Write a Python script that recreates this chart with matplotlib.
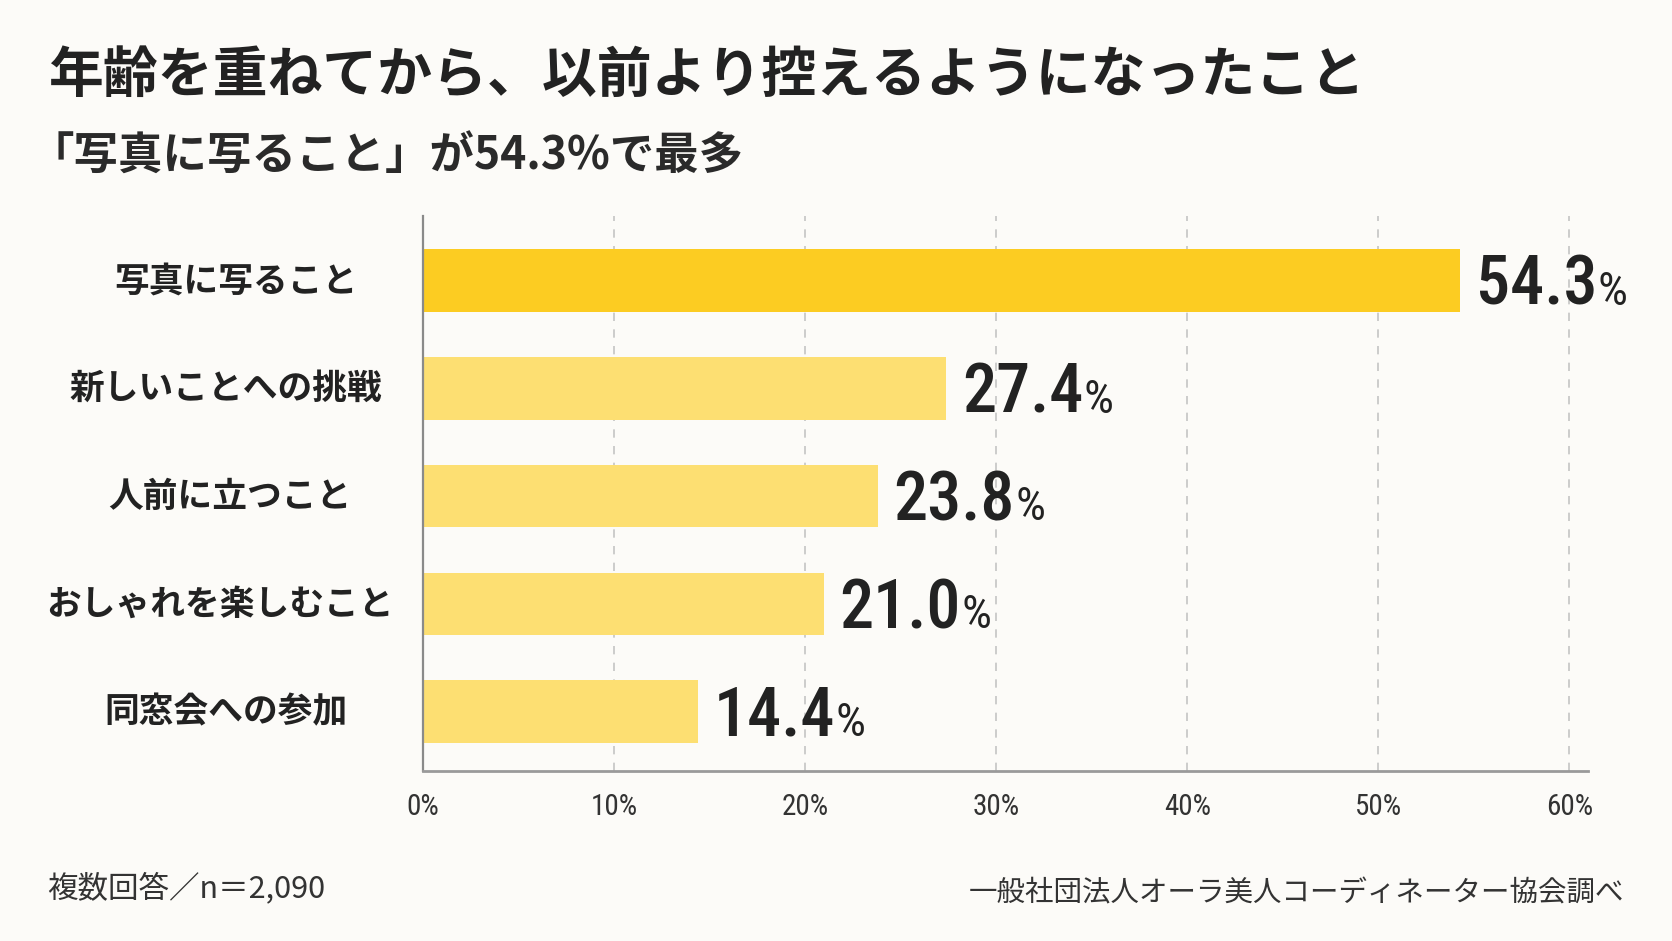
import matplotlib
matplotlib.use('Agg')
import matplotlib.pyplot as plt
from matplotlib import font_manager
from matplotlib.transforms import blended_transform_factory

# data
categories = ['写真に写ること', '新しいことへの挑戦', '人前に立つこと', 'おしゃれを楽しむこと', '同窓会への参加']
values = [54.3, 27.4, 23.8, 21.0, 14.4]
bar_colors = ['#FCCC22', '#FDDF72', '#FDDF72', '#FDDF72', '#FDDF72']
x_ticks = [0, 10, 20, 30, 40, 50, 60]
x_tick_labels = ['%d%%' % t for t in x_ticks]

title = '年齢を重ねてから、以前より控えるようになったこと'
subtitle = '「写真に写ること」が54.3%で最多'
note_left = '複数回答／n＝2,090'
note_right = '一般社団法人オーラ美人コーディネーター協会調べ'

jp = ['Noto Sans CJK JP', 'DejaVu Sans']

# pick a narrow-ish font for the numbers if one is installed
fonts = font_manager.fontManager.ttflist
names = set(f.name for f in fonts)
num_font = 'DejaVu Sans'
for cand in ['Liberation Sans Narrow', 'Roboto Condensed', 'Open Sans Condensed', 'Roboto']:
    if cand in names:
        num_font = cand
        break
num_weights = set(f.weight for f in fonts if f.name == num_font)
num_weight = 500 if 500 in num_weights else 'bold'

bg = '#FCFBF8'
dark = '#222222'
dpi = 100
fig = plt.figure(figsize=(16.72, 9.41), dpi=dpi, facecolor=bg)
ax = fig.add_axes([0.253, 0.1807, 0.697, 0.5898], facecolor=bg)

ypos = list(range(len(categories)))
ax.barh(ypos, values, height=0.58, color=bar_colors, zorder=2)

ax.set_xlim(0, 61)
ax.set_ylim(4.55, -0.6)
ax.set_xticks(x_ticks)
ax.set_xticklabels(x_tick_labels, family=num_font, fontsize=21, color='#333333')
ax.tick_params(axis='x', length=0, pad=16)
ax.set_yticks([])

ax.set_axisbelow(True)
ax.xaxis.grid(True, linestyle=(0, (5, 5)), color='#c4c4c4', linewidth=1.2)
for s in ['top', 'right']:
    ax.spines[s].set_visible(False)
ax.spines['left'].set_color('#8a8a8a')
ax.spines['left'].set_linewidth(1.6)
ax.spines['bottom'].set_color('#9a9a9a')
ax.spines['bottom'].set_linewidth(2)

# category labels, centred in the left margin
tr = blended_transform_factory(fig.transFigure, ax.transData)
label_x = [236, 226, 230, 220, 226]
for i, c in enumerate(categories):
    ax.text(label_x[i] / 1672, i, c, transform=tr, ha='center', va='center',
            family=jp, fontsize=25, fontweight='bold', color=dark)

# value labels: big number + small %
nums = []
for i, v in enumerate(values):
    t = ax.annotate('%.1f' % v, xy=(v, i), xytext=(11, -17.5), textcoords='offset points',
                    ha='left', va='baseline', family=num_font, fontsize=49,
                    fontweight=num_weight, color=dark)
    nums.append(t)

fig.canvas.draw()
r = fig.canvas.get_renderer()
for i, v in enumerate(values):
    w = nums[i].get_window_extent(r).width * 72 / dpi
    ax.annotate('%', xy=(v, i), xytext=(11 + w + 0.5, -17.5), textcoords='offset points',
                ha='left', va='baseline', family=num_font, fontsize=34,
                fontweight='normal', color=dark)

fig.text(48 / 1672, 1 - 75 / 941, title, ha='left', va='center',
         family=jp, fontsize=39.5, fontweight='bold', color=dark)
fig.text(30 / 1672, 1 - 157 / 941, subtitle, ha='left', va='center',
         family=jp, fontsize=32, fontweight='bold', color='#2a2a2a')
fig.text(47 / 1672, 1 - 888 / 941, note_left, ha='left', va='center',
         family=jp, fontsize=22, color='#333333')
fig.text(1624 / 1672, 1 - 893 / 941, note_right, ha='right', va='center',
         family=jp, fontsize=20.5, color='#333333')

fig.savefig('out.png', dpi=dpi, facecolor=bg)
